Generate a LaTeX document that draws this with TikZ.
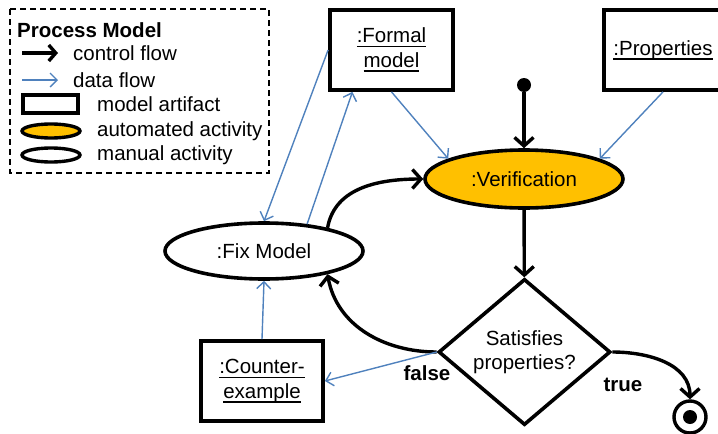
\documentclass[tikz,border=0pt]{standalone}
\usepackage{fontspec}
\setmainfont{Liberation Sans}
\usepackage{xcolor}
\usepackage{tikz}
\usetikzlibrary{shapes.geometric,arrows.meta,positioning}
\definecolor{autofill}{HTML}{FFC000}
\definecolor{flowblue}{HTML}{4F81BD}
\newcommand{\ultext}[1]{\leavevmode\setbox0\hbox{#1}\rlap{\rule[-4.6pt]{\wd0}{1.7pt}}\box0}
\tikzset{
  lab/.style={font=\fontsize{20.5}{24.5}\selectfont, inner sep=0pt, align=center},
  artifact/.style={lab, draw=black, rectangle, line width=3.8pt, minimum width=122pt, minimum height=80pt},
  activity/.style={lab, draw=black, ellipse, line width=3.6pt, minimum width=198pt, minimum height=58pt},
  automated/.style={activity, fill=autofill},
  decision/.style={lab, draw=black, diamond, line width=3.6pt, minimum width=172pt, minimum height=113pt},
  ctrl/.style={draw=black, line width=3.4pt, -{Straight Barb[length=8.5pt,width=19pt]}},
  dflow/.style={draw=flowblue, line width=1.4pt, -{Straight Barb[length=7pt,width=14pt]}},
  legbox/.style={draw=black, dashed, dash pattern=on 6pt off 4pt, line width=1.6pt},
  legtxt/.style={lab, anchor=west},
  blab/.style={lab, font=\fontsize{20.5}{24.5}\selectfont\bfseries},
}

\begin{document}
\begin{tikzpicture}[x=1pt,y=-1pt]
  \useasboundingbox (0,0) rectangle (718,434);

  % legend
  \draw[legbox] (10,9) rectangle (269,173);
  \node[blab, anchor=west] (legtitle) at (17,30) {Process Model};
  \coordinate (lc1) at (22,53);
  \coordinate (lc2) at (58,53);
  \coordinate (ld1) at (22,80);
  \coordinate (ld2) at (58,80);
  \draw[ctrl, -{Straight Barb[length=7pt,width=16pt]}] (lc1) -- (lc2);
  \draw[dflow] (ld1) -- (ld2);
  \node[legtxt] (legctrl) at (73,53) {control flow};
  \node[legtxt] (legdata) at (73,80) {data flow};
  \node[draw=black, line width=3.6pt, minimum width=55pt, minimum height=18pt, inner sep=0pt] (legart) at (50.5,104) {};
  \node[draw=black, ellipse, fill=autofill, line width=3.4pt, minimum width=58pt, minimum height=14pt, inner sep=0pt] (legauto) at (51,131) {};
  \node[draw=black, ellipse, line width=3.4pt, minimum width=58pt, minimum height=14pt, inner sep=0pt] (legman) at (51,155) {};
  \node[legtxt] (legarttxt) at (97,104) {model artifact};
  \node[legtxt] (legautotxt) at (97,131) {automated activity};
  \node[legtxt] (legmantxt) at (97,155) {manual activity};

  % artifacts and activities
  \node[artifact, minimum width=123pt] (formal) at (391.5,50) {\ultext{:Formal}\\\ultext{model}};
  \node[artifact, minimum width=118pt] (props) at (663,50) {\ultext{:Properties}};
  \node[artifact] (counter) at (262,381) {\ultext{:Counter-}\\\ultext{example}};
  \node[automated] (verif) at (524,179) {:Verification};
  \node[activity, minimum height=56pt] (fix) at (264,251) {:Fix Model};
  \node[decision] (sat) at (524.5,352) {Satisfies\\properties?};
  \node[circle, fill=black, minimum size=14pt, inner sep=0pt] (start) at (524,85) {};
  \node[circle, draw=black, line width=3.4pt, minimum size=32pt, inner sep=0pt] (stop) at (690,417) {};
  \node[circle, fill=black, minimum size=14pt, inner sep=0pt] (stopdot) at (stop.center) {};
  \node[blab] (lfalse) at (427,373) {false};
  \node[blab] (ltrue) at (623,385) {true};

  % control flow
  \draw[ctrl] (start) -- (verif);
  \draw[ctrl] (verif) -- (sat);
  \draw[ctrl] (sat.west) to[out=180,in=-80] (fix.-20);
  \draw[ctrl] (fix.20) to[out=80,in=180] (verif.west);
  \draw[ctrl] (sat.east) to[out=0,in=90] (stop.north);

  % data flow
  \draw[dflow] (formal.south) -- (verif.165);
  \draw[dflow] (props.south) -- (verif.15);
  \draw[dflow] (formal.west) -- (fix.north);
  \draw[dflow] (fix.32) -- (formal.-133);
  \draw[dflow] (counter.north) -- (fix.south);
  \draw[dflow] (sat.west) -- (counter.east);
\end{tikzpicture}
\end{document}
